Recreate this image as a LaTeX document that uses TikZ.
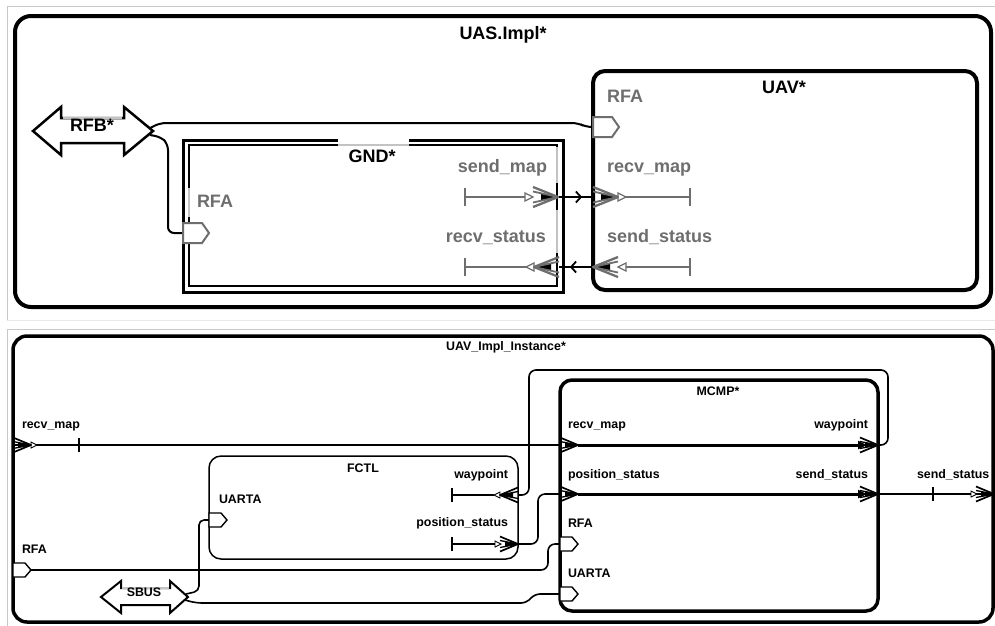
\documentclass[tikz,border=0pt]{standalone}
\usepackage{fontspec}
\setmainfont{Liberation Sans}
\usetikzlibrary{arrows.meta,decorations.markings}
\definecolor{pgray}{RGB}{110,110,110}
\definecolor{fgray}{RGB}{200,200,200}
\definecolor{ffgray}{RGB}{232,232,232}
\definecolor{lgray}{RGB}{195,195,195}
\begin{document}
\begin{tikzpicture}[x=1pt,y=-1pt,
  bigfont/.style={font=\fontsize{18}{20}\selectfont\bfseries},
  smallfont/.style={font=\fontsize{12.4}{14}\selectfont\bfseries},
  lbl/.style={inner sep=0pt,outer sep=0pt},
  box/.style={draw,inner sep=0pt,outer sep=0pt,anchor=north west},
  conn/.style={draw=black,line width=2pt},
  bconn/.style={draw=black,line width=1.6pt,rounded corners=7pt},
  pline/.style={draw=pgray,line width=2pt},
  bline/.style={draw=black,line width=1.5pt},
  flowline/.style={draw=black,line width=3pt,-{Triangle[length=9pt,width=8pt]}},
  midfwd/.style={postaction={decorate},decoration={markings,
     mark=at position 0.68 with {\arrow{Straight Barb[length=5pt,width=11pt,line width=1.8pt]}}}},
  bigchev/.pic={
    \fill[black] (-17,-3.2) -- (0,0) -- (-17,3.2) -- cycle;
    \draw[pgray,line width=2.3pt,line join=round] (-25,-10) -- (0,0) -- (-25,10);
    \draw[pgray,line width=1.8pt,line join=round] (-25,-5.5) -- (0,0) -- (-25,5.5);
  },
  smallchev/.pic={
    \fill[black] (-13,-2.5) -- (0,0) -- (-13,2.5) -- cycle;
    \draw[black,line width=1.7pt,line join=round] (-18,-7.5) -- (0,0) -- (-18,7.5);
    \draw[black,line width=1.3pt,line join=round] (-18,-3.5) -- (0,0) -- (-18,3.5);
  },
  bigtri/.pic={\draw[pgray,fill=white,line width=1.2pt] (-8,-4) -- (0,0) -- (-8,4) -- cycle;},
  smalltri/.pic={\draw[black,fill=white,line width=0.9pt] (-6,-3) -- (0,0) -- (-6,3) -- cycle;},
  bigport/.pic={\draw[pgray,fill=white,line width=2pt] (0,-10) -- (19,-10) -- (26,0) -- (19,10) -- (0,10) -- cycle;},
  smallport/.pic={\draw[black,fill=white,line width=1.4pt] (0,-7) -- (12,-7) -- (18,0) -- (12,7) -- (0,7) -- cycle;}
]
\path[use as bounding box] (0,0) rectangle (995,625);
\fill[white] (0,0) rectangle (995,625);

% panel frames
\draw[fgray,line width=1pt] (1000,6) -- (7,6) -- (7,320);
\draw[ffgray,line width=1pt] (7,320) -- (1000,320);
\draw[fgray,line width=1pt] (1000,329) -- (7,329) -- (7,630);

%% ================= TOP PANEL =================
\node[box,line width=4pt,rounded corners=16pt,minimum width=976pt,minimum height=291pt] (uas) at (15,16) {};
\node[box,line width=4pt,rounded corners=12pt,minimum width=384pt,minimum height=219pt] (uav) at (593,71) {};
\node[box,line width=3pt,minimum width=380pt,minimum height=152pt] (gndout) at (183,140) {};
\node[box,line width=2pt,minimum width=368pt,minimum height=141pt] (gnd) at (189,145) {};
% label gaps on GND border
\fill[white] (338,137) rectangle (409,147);
\draw[lgray,line width=2pt] (338,145) -- (409,145);
\draw[white,line width=2.6pt] (189,188) -- (189,217);
\draw[lgray,line width=2pt] (189,188) -- (189,217);
\draw[white,line width=2.6pt] (557,147) -- (557,285);
\draw[lgray,line width=2pt] (557,147) -- (557,285);
\draw[black,line width=2pt] (557,183) -- (557,210) (557,253) -- (557,285);

% RFB* bus
\draw[black,fill=white,line width=2.5pt,line join=miter]
  (33,131) -- (61,107) -- (61,118) -- (124,118) -- (124,107) -- (153,131)
  -- (124,155) -- (124,143) -- (61,143) -- (61,155) -- cycle;
\draw[lgray,line width=2pt] (63,118) -- (122,118);
\coordinate (rfbA) at (150,128);
\coordinate (rfbB) at (150,135);

% port points
\coordinate (uavRFA) at (593,127);
\coordinate (gndRFA) at (183,233);
\coordinate (gndSM) at (559,197);
\coordinate (uavRM) at (593,197);
\coordinate (uavSS) at (593,267);
\coordinate (gndRS) at (559,267);

% connectors
\draw[conn,rounded corners=6pt] (rfbA) -- (160,123) -- (578,123) -- (586,127) -- (uavRFA);
\draw[conn,rounded corners=6pt] (rfbB) -- (161,137) -- (168,144) -- (168,233) -- (gndRFA);
\draw[conn,midfwd] (gndSM) -- (uavRM);
\draw[conn,midfwd] (uavSS) -- (gndRS);

% ports UAV
\pic at (uavRFA) {bigport};
\draw[pline] (626,197) -- (690,197);
\draw[pline] (690,188) -- (690,206);
\pic at (626,197) {bigtri};
\pic at (618,197) {bigchev};
\draw[pline] (626,267) -- (690,267);
\draw[pline] (690,258) -- (690,276);
\pic[rotate=180] at (618,267) {bigtri};
\pic[rotate=180] at (593,267) {bigchev};
% ports GND
\pic at (gndRFA) {bigport};
\draw[pline] (465,197) -- (526,197);
\draw[pline] (465,188) -- (465,206);
\pic at (533,197) {bigtri};
\pic at (558,197) {bigchev};
\draw[pline] (465,267) -- (526,267);
\draw[pline] (465,258) -- (465,276);
\pic[rotate=180] at (526,267) {bigtri};
\pic[rotate=180] at (534,267) {bigchev};

% texts top
\node[lbl,bigfont,anchor=base] (tuas) at (503,39.5) {UAS.Impl*};
\node[lbl,bigfont,anchor=base] (tuav) at (784,93) {UAV*};
\node[lbl,bigfont,anchor=base] (tgnd) at (372,162) {GND*};
\node[lbl,bigfont,anchor=base] (trfb) at (92,131) {RFB*};
\node[lbl,bigfont,text=pgray,anchor=base west] (tuavrfa) at (607,102) {RFA};
\node[lbl,bigfont,text=pgray,anchor=base west] (tuavrm) at (607,172) {recv\_map};
\node[lbl,bigfont,text=pgray,anchor=base west] (tuavss) at (607,242) {send\_status};
\node[lbl,bigfont,text=pgray,anchor=base west] (tgndrfa) at (197,207) {RFA};
\node[lbl,bigfont,text=pgray,anchor=base east] (tgndsm) at (547,172) {send\_map};
\node[lbl,bigfont,text=pgray,anchor=base east] (tgndrs) at (546,242) {recv\_status};

%% ================= BOTTOM PANEL =================
\node[box,line width=3.5pt,rounded corners=14pt,minimum width=980pt,minimum height=286pt] (impl) at (13,336) {};
\node[box,line width=3.5pt,rounded corners=12pt,minimum width=318pt,minimum height=231pt] (mcmp) at (560,380) {};
\node[box,line width=1.5pt,rounded corners=12pt,minimum width=309pt,minimum height=103pt] (fctl) at (209,456) {};

% SBUS
\draw[black,fill=white,line width=2pt,line join=miter]
  (101,597) -- (121,581) -- (121,588) -- (170,588) -- (170,581) -- (188,597)
  -- (170,613) -- (170,605) -- (121,605) -- (121,613) -- cycle;
\draw[lgray,line width=1.5pt] (122,588) -- (169,588);
\coordinate (sbusA) at (186,594);
\coordinate (sbusB) at (185,600);

% port points
\coordinate (oRM) at (13,445);
\coordinate (mRM) at (560,445);
\coordinate (mWP) at (878,445);
\coordinate (fWP) at (518,495);
\coordinate (fPS) at (518,544);
\coordinate (mPS) at (560,494);
\coordinate (mSS) at (878,494);
\coordinate (oSS) at (994,494);
\coordinate (oRFA) at (31,570);
\coordinate (mRFA) at (560,544);
\coordinate (fUA) at (209,520);
\coordinate (mUA) at (560,594);

% connectors
\draw[bconn] (oRM) -- (mRM);
\draw[bconn] (mWP) -- (888,445) -- (888,370) -- (529,370) -- (529,495) -- (fWP);
\draw[bconn] (fPS) -- (538,544) -- (538,494) -- (mPS);
\draw[bconn] (oRFA) -- (548,570) -- (548,544) -- (mRFA);
\draw[bconn,rounded corners=5pt] (sbusA) -- (199,591) -- (199,520) -- (fUA);
\draw[bconn,rounded corners=6pt] (sbusB) -- (196,603) -- (527,603) -- (534,594) -- (mUA);
\draw[bconn] (mSS) -- (oSS);

% internal flows of MCMP
\draw[flowline] (578,445) -- (867,445);
\draw[flowline] (578,494) -- (867,494);

% port symbols bottom
\draw[bline] (79,438) -- (79,452);
\pic at (37,445) {smalltri};
\pic at (31,445) {smallchev};
\pic at (578,445) {smallchev};
\pic at (878,445) {smallchev};
\pic at (578,494) {smallchev};
\pic at (878,494) {smallchev};
% FCTL waypoint
\draw[bline] (452,495) -- (494,495);
\draw[bline] (452,488) -- (452,502);
\pic[rotate=180] at (494,495) {smalltri};
\pic[rotate=180] at (500,495) {smallchev};
% FCTL position_status
\draw[bline] (452,544) -- (495,544);
\draw[bline] (452,537) -- (452,551);
\pic at (501,544) {smalltri};
\pic at (518,544) {smallchev};
% outer send_status
\draw[bline] (933,487) -- (933,501);
\pic at (977,494) {smalltri};
\pic at (994,494) {smallchev};
% feature ports
\pic at (13,570) {smallport};
\pic at (mRFA) {smallport};
\pic at (mUA) {smallport};
\pic at (fUA) {smallport};

% texts bottom
\node[lbl,smallfont,anchor=base] (timpl) at (506,350) {UAV\_Impl\_Instance*};
\node[lbl,smallfont,anchor=base] (tmcmp) at (718,395) {MCMP*};
\node[lbl,smallfont,anchor=base] (tfctl) at (363,472) {FCTL};
\node[lbl,smallfont,anchor=base] (tsbus) at (144,596) {SBUS};
\node[lbl,smallfont,anchor=base west] (torm) at (22,428) {recv\_map};
\node[lbl,smallfont,anchor=base west] (torfa) at (22,553) {RFA};
\node[lbl,smallfont,anchor=base west] (tfua) at (219,503) {UARTA};
\node[lbl,smallfont,anchor=base east] (tfwp) at (508,478) {waypoint};
\node[lbl,smallfont,anchor=base east] (tfps) at (508,526) {position\_status};
\node[lbl,smallfont,anchor=base west] (tmrm) at (568,428) {recv\_map};
\node[lbl,smallfont,anchor=base east] (tmwp) at (868,428) {waypoint};
\node[lbl,smallfont,anchor=base west] (tmps) at (568,478) {position\_status};
\node[lbl,smallfont,anchor=base east] (tmss) at (868,478) {send\_status};
\node[lbl,smallfont,anchor=base west] (tmrfa) at (568,527) {RFA};
\node[lbl,smallfont,anchor=base west] (tmua) at (568,577) {UARTA};
\node[lbl,smallfont,anchor=base west] (toss) at (917,478) {send\_status};
\end{tikzpicture}
\end{document}
